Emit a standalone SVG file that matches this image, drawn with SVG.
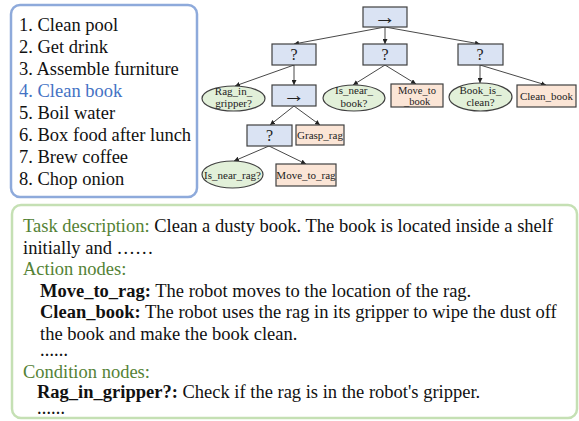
<svg xmlns="http://www.w3.org/2000/svg" width="579" height="421" viewBox="0 0 579 421">
<defs>
<marker id="ah" viewBox="0 0 6 6" refX="6" refY="3" markerWidth="5" markerHeight="5" orient="auto" markerUnits="userSpaceOnUse">
<path d="M0,0 L6,3 L0,6 z" fill="#222"/>
</marker>
<style>
.t{font-family:"Liberation Serif","Times New Roman",serif;font-size:18.5px;fill:#111}
.n{font-family:"Liberation Serif","Times New Roman",serif;font-size:11px;fill:#222;text-anchor:middle}
.sym{font-family:"Liberation Serif","DejaVu Serif",serif;font-size:16px;fill:#222;text-anchor:middle}
.arr{font-family:"Liberation Serif","DejaVu Serif",serif;font-size:22px;fill:#222;text-anchor:middle}
.ctl{fill:#dae3f3;stroke:#404040;stroke-width:1.2}
.act{fill:#fbe5d6;stroke:#404040;stroke-width:1.2}
.cnd{fill:#e2f0d9;stroke:#404040;stroke-width:1.2}
.e{stroke:#333;stroke-width:0.9;fill:none;marker-end:url(#ah)}
.g{fill:#548235}
.b{font-weight:bold}
.d{font-size:14px;font-weight:bold}
</style>
</defs>
<rect width="579" height="421" fill="#fff"/>

<g id="task-list">
<rect x="11" y="5" width="186" height="192" rx="9" fill="#fff" stroke="#8eaadb" stroke-width="2.5"/>
<text class="t" x="19" y="31">1. Clean pool</text>
<text class="t" x="19" y="53">2. Get drink</text>
<text class="t" x="19" y="75">3. Assemble furniture</text>
<text class="t" x="19" y="97" style="fill:#4472c4">4. Clean book</text>
<text class="t" x="19" y="119">5. Boil water</text>
<text class="t" x="19" y="141">6. Box food after lunch</text>
<text class="t" x="19" y="163">7. Brew coffee</text>
<text class="t" x="19" y="185">8. Chop onion</text>
</g>

<g id="connectors">
<line class="e" x1="385" y1="27" x2="294" y2="44"/>
<line class="e" x1="385" y1="27" x2="385" y2="44"/>
<line class="e" x1="385" y1="27" x2="480" y2="44"/>
<line class="e" x1="294" y1="65" x2="235" y2="86"/>
<line class="e" x1="294" y1="65" x2="294" y2="85"/>
<line class="e" x1="385" y1="65" x2="353" y2="85"/>
<line class="e" x1="385" y1="65" x2="416" y2="84"/>
<line class="e" x1="480" y1="65" x2="480" y2="83"/>
<line class="e" x1="480" y1="65" x2="546" y2="85"/>
<line class="e" x1="294" y1="106" x2="270" y2="125"/>
<line class="e" x1="294" y1="106" x2="320" y2="125"/>
<line class="e" x1="269" y1="146" x2="234" y2="161"/>
<line class="e" x1="269" y1="146" x2="306" y2="164"/>
</g>

<g id="root-seq">
<rect class="ctl" x="363" y="7" width="44" height="20"/>
<text class="arr" x="385" y="24">→</text>
</g>
<g id="fb-left">
<rect class="ctl" x="272" y="44" width="44" height="21"/>
<text class="sym" x="294" y="60">?</text>
</g>
<g id="fb-mid">
<rect class="ctl" x="363" y="44" width="44" height="21"/>
<text class="sym" x="385" y="60">?</text>
</g>
<g id="fb-right">
<rect class="ctl" x="458" y="44" width="45" height="21"/>
<text class="sym" x="480" y="60">?</text>
</g>
<g id="rag-in-gripper">
<ellipse class="cnd" cx="233.5" cy="98.5" rx="31.5" ry="12.5"/>
<text class="n" x="233.5" y="95">Rag_in_</text>
<text class="n" x="233.5" y="107">gripper?</text>
</g>
<g id="seq-left">
<rect class="ctl" x="272" y="85" width="44" height="21"/>
<text class="arr" x="294" y="102">→</text>
</g>
<g id="is-near-book">
<ellipse class="cnd" cx="354" cy="98" rx="31" ry="13"/>
<text class="n" x="354" y="94">Is_near_</text>
<text class="n" x="354" y="107">book?</text>
</g>
<g id="move-to-book">
<rect class="act" x="391" y="84" width="52" height="23"/>
<text class="n" x="417" y="94" style="font-size:10.5px">Move_to</text>
<text class="n" x="417" y="104.5" style="font-size:10.5px">_book</text>
</g>
<g id="book-is-clean">
<ellipse class="cnd" cx="480.5" cy="97" rx="31.5" ry="14"/>
<text class="n" x="480.5" y="94">Book_is_</text>
<text class="n" x="480.5" y="106">clean?</text>
</g>
<g id="clean-book">
<rect class="act" x="517" y="85" width="59" height="22"/>
<text class="n" x="546.5" y="100">Clean_book</text>
</g>
<g id="fb-lower">
<rect class="ctl" x="247" y="125" width="45" height="21"/>
<text class="sym" x="269.5" y="141">?</text>
</g>
<g id="grasp-rag">
<rect class="act" x="296" y="125" width="48" height="20"/>
<text class="n" x="320" y="139">Grasp_rag</text>
</g>
<g id="is-near-rag">
<ellipse class="cnd" cx="232.5" cy="174.5" rx="30.5" ry="13.5"/>
<text class="n" x="232.5" y="178.5">Is_near_rag?</text>
</g>
<g id="move-to-rag">
<rect class="act" x="276" y="164" width="60" height="22"/>
<text class="n" x="306" y="179">Move_to_rag</text>
</g>

<g id="description">
<rect x="12" y="205" width="565" height="213" rx="9" fill="#fff" stroke="#c5e0b4" stroke-width="2.5"/>
<text class="t" x="23" y="232"><tspan class="g">Task description:</tspan> Clean a dusty book. The book is located inside a shelf</text>
<text class="t" x="23" y="254">initially and ……</text>
<text class="t g" x="23" y="275">Action nodes:</text>
<text class="t" x="40" y="297"><tspan class="b">Move_to_rag:</tspan> The robot moves to the location of the rag.</text>
<text class="t" x="40" y="318"><tspan class="b">Clean_book:</tspan> The robot uses the rag in its gripper to wipe the dust off</text>
<text class="t" x="40" y="340">the book and make the book clean.</text>
<text class="t d" x="40" y="356">……</text>
<text class="t g" x="23" y="378">Condition nodes:</text>
<text class="t" x="37" y="398"><tspan class="b">Rag_in_gripper?:</tspan> Check if the rag is in the robot's gripper.</text>
<text class="t d" x="37" y="414">……</text>
</g>
</svg>
